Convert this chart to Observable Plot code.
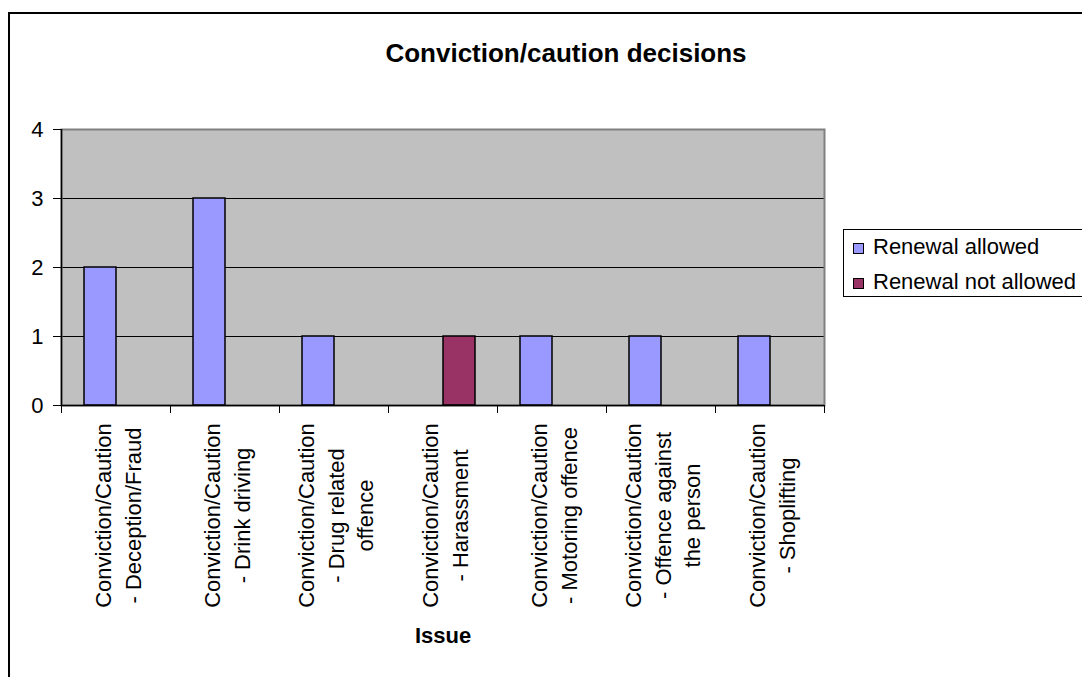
<!DOCTYPE html>
<html>
<head>
<meta charset="utf-8">
<script src="https://cdn.jsdelivr.net/npm/d3@7"></script>
<script src="https://cdn.jsdelivr.net/npm/@observablehq/plot@0.6"></script>
<style>
  body { margin: 0; background: #fff; font-family: "Liberation Sans", Arial, sans-serif; }
  #page { position: relative; width: 1082px; height: 677px; overflow: hidden; background: #fff; }
  #box { position: absolute; left: 8px; top: 12px; width: 1200px; height: 800px; border: 2px solid #000; box-sizing: border-box; }
  #title { position: absolute; left: 0; top: 38px; width: 1132px; text-align: center; font-weight: bold; font-size: 26px; line-height: 30px; }
  #chart { position: absolute; left: 0; top: 0; }
  #legend { position: absolute; left: 843px; top: 229px; width: 300px; height: 68px; border: 1px solid #000; box-sizing: border-box; background: #fff; }
  .sw { position: absolute; width: 11px; height: 11px; border: 1px solid #000; box-sizing: border-box; }
  .lt { position: absolute; font-size: 22px; line-height: 22px; white-space: nowrap; }
</style>
</head>
<body>
<div id="page">
  <div id="box"></div>
  <div id="title"></div>
  <div id="chart"></div>
  <div id="legend"></div>
</div>
<script>
const titleText = "Conviction/caution decisions";
const xTitle = "Issue";
const categories = [
  "Deception/Fraud", "Drink driving", "Drug related offence", "Harassment",
  "Motoring offence", "Offence against the person", "Shoplifting"
];
const tickLabels = [
  "Conviction/Caution\n- Deception/Fraud",
  "Conviction/Caution\n- Drink driving",
  "Conviction/Caution\n- Drug related\noffence",
  "Conviction/Caution\n- Harassment",
  "Conviction/Caution\n- Motoring offence",
  "Conviction/Caution\n- Offence against\nthe person",
  "Conviction/Caution\n- Shoplifting"
];
const seriesNames = ["Renewal allowed", "Renewal not allowed"];
const allowedValues = [2, 3, 1, 0, 1, 1, 1];
const notAllowedValues = [0, 0, 0, 1, 0, 0, 0];
const seriesColors = ["#9999ff", "#993366"];
const yTicks = [0, 1, 2, 3, 4];
const gridTicks = [1, 2, 3];

document.getElementById("title").textContent = titleText;

const allowedRows = categories.map((c, i) => ({category: c, series: seriesNames[0], value: allowedValues[i]})).filter(d => d.value > 0);
const notAllowedRows = categories.map((c, i) => ({category: c, series: seriesNames[1], value: notAllowedValues[i]})).filter(d => d.value > 0);

const font = "'Liberation Sans', Arial, sans-serif";
const half = 54.5;

const chart = Plot.plot({
  width: 1082,
  height: 677,
  marginLeft: 61,
  marginRight: 258,
  marginTop: 129,
  marginBottom: 272,
  style: {fontFamily: font, fontSize: "22px", color: "#000", background: "transparent", overflow: "visible"},
  x: {type: "band", domain: categories, padding: 0, axis: null},
  y: {domain: [0, 4], axis: null},
  color: {domain: seriesNames, range: seriesColors},
  marks: [
    Plot.frame({fill: "#c0c0c0"}),
    Plot.gridY(gridTicks, {stroke: "#000", strokeOpacity: 1}),
    Plot.frame({stroke: "#808080", strokeWidth: 2}),
    Plot.barY(allowedRows, {x: "category", y: "value", fill: "series", stroke: "#000", strokeWidth: 1.5, insetLeft: 23, insetRight: 54}),
    Plot.barY(notAllowedRows, {x: "category", y: "value", fill: "series", stroke: "#000", strokeWidth: 1.5, insetLeft: 55, insetRight: 22}),
    Plot.ruleY([0], {stroke: "#000", strokeWidth: 1.5}),
    Plot.ruleX([categories[0]], {stroke: "#000", strokeWidth: 1.5, dx: -half}),
    Plot.axisY({ticks: yTicks, tickFormat: d => String(d), tickSize: 8, tickPadding: 10, fontSize: 22, label: null, stroke: "#000"}),
    Plot.ruleX(categories, {x: d => d, y1: 0, y2: 0, insetBottom: -8, dx: -half, stroke: "#000"}),
    Plot.ruleX([categories[categories.length - 1]], {x: d => d, y1: 0, y2: 0, insetBottom: -8, dx: half, stroke: "#000"}),
    Plot.text(tickLabels, {x: categories, frameAnchor: "bottom", rotate: -90, textAnchor: "middle", lineAnchor: "middle", lineHeight: 1.36, dy: 110, fontSize: 22, fill: "#000"}),
    Plot.text([xTitle], {frameAnchor: "bottom", dy: 237, fontSize: 22, fontWeight: "bold", fill: "#000"})
  ]
});
document.getElementById("chart").appendChild(chart);

const legend = document.getElementById("legend");
seriesNames.forEach((name, i) => {
  const sw = document.createElement("div");
  sw.className = "sw";
  sw.style.left = "9px";
  sw.style.top = (13 + i * 35) + "px";
  sw.style.background = seriesColors[i];
  legend.appendChild(sw);
  const t = document.createElement("div");
  t.className = "lt";
  t.style.left = "29px";
  t.style.top = (6 + i * 35) + "px";
  t.textContent = name;
  legend.appendChild(t);
});
</script>
</body>
</html>
